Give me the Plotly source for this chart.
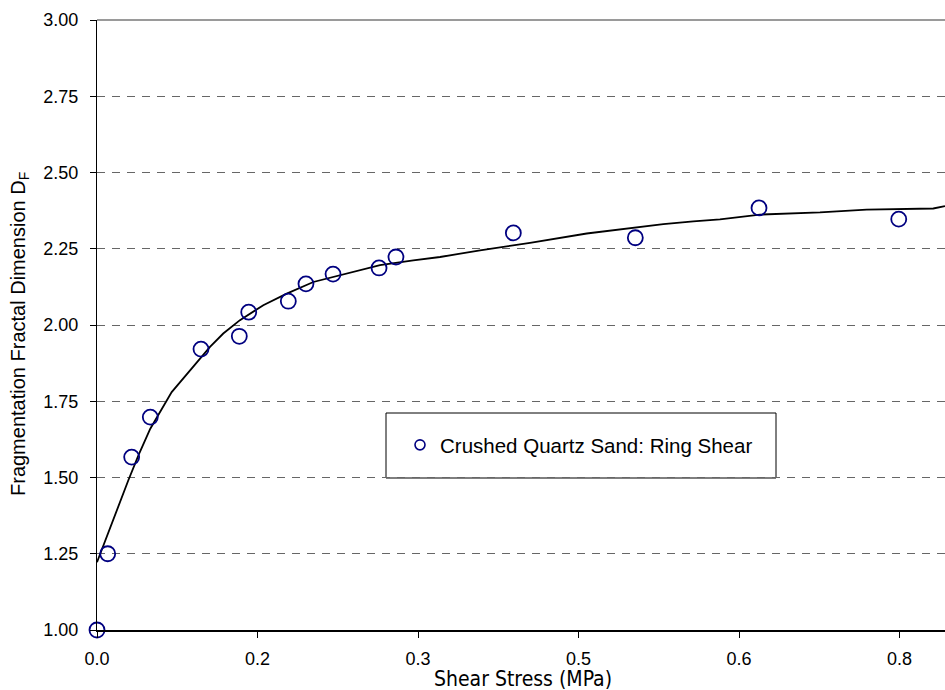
import plotly.graph_objects as go

# ---- data ----
shear_stress = [0.0, 0.0100, 0.0324, 0.0498, 0.0972, 0.1330, 0.1418, 0.1788,
                0.1953, 0.2206, 0.2636, 0.2794, 0.3891, 0.5031, 0.6187, 0.7493]
frag_dim = [1.000, 1.250, 1.567, 1.698, 1.921, 1.963, 2.042, 2.078,
            2.135, 2.167, 2.187, 2.223, 2.302, 2.286, 2.384, 2.347]

fit_stress = [0.0, 0.0100, 0.0208, 0.0293, 0.0390, 0.0498, 0.0698, 0.0776,
              0.0972, 0.1056, 0.1180, 0.1336, 0.1554, 0.1773, 0.2022, 0.2334,
              0.2645, 0.2956, 0.3206, 0.3580, 0.4047, 0.4577, 0.5012, 0.5293,
              0.5573, 0.5822, 0.6196, 0.6757, 0.7193, 0.7816, 0.7925]
fit_dim = [1.222, 1.315, 1.418, 1.491, 1.575, 1.660, 1.780, 1.813,
           1.895, 1.928, 1.972, 2.016, 2.065, 2.103, 2.141, 2.169,
           2.196, 2.212, 2.223, 2.245, 2.269, 2.300, 2.320, 2.331,
           2.340, 2.346, 2.362, 2.369, 2.378, 2.382, 2.390]

x_tick_vals = [0.0, 0.15, 0.30, 0.45, 0.60, 0.75]
x_tick_text = ["0.0", "0.2", "0.3", "0.5", "0.6", "0.8"]
y_tick_vals = [1.00, 1.25, 1.50, 1.75, 2.00, 2.25, 2.50, 2.75, 3.00]

series_name = "Crushed Quartz Sand: Ring Shear"
x_title = "Shear Stress (MPa)"
y_title = "Fragmentation Fractal Dimension D<sub>F</sub>"

NAVY = "#000080"
FONT = "Liberation Sans, Arial, sans-serif"

fig = go.Figure()

fig.add_trace(go.Scatter(
    x=fit_stress, y=fit_dim, mode="lines",
    line=dict(color="black", width=1.8),
    showlegend=False, hoverinfo="skip", cliponaxis=False,
))
fig.add_trace(go.Scatter(
    x=shear_stress, y=frag_dim, mode="markers",
    marker=dict(symbol="circle-open", size=15, color=NAVY, line=dict(width=1.8, color=NAVY)),
    showlegend=False, cliponaxis=False, name=series_name,
))
# legend entry (smaller symbol, as in the reference)
fig.add_trace(go.Scatter(
    x=[None], y=[None], mode="markers", name=series_name,
    marker=dict(symbol="circle-open", size=10, color=NAVY, line=dict(width=1.6, color=NAVY)),
    showlegend=True,
))

W, H = 945, 690
L, R, T, B = 97, 0, 20, 60
pw, ph = W - L - R, H - T - B

def px_x(p):
    return (p - L) / pw

def px_y(p):
    return (H - B - p) / ph

fig.update_layout(
    width=W, height=H,
    margin=dict(l=L, r=R, t=T, b=B),
    paper_bgcolor="white", plot_bgcolor="white",
    font=dict(family=FONT, size=18, color="black"),
    showlegend=True,
    legend=dict(
        x=px_x(400), y=px_y(445), xanchor="left", yanchor="middle",
        bgcolor="rgba(0,0,0,0)", borderwidth=0,
        font=dict(family=FONT, size=20.5, color="black"),
        itemwidth=30,
    ),
    xaxis=dict(
        range=[0, pw / 1070.0],
        tickvals=x_tick_vals, ticktext=x_tick_text,
        showgrid=False, zeroline=False,
        showline=True, linecolor="black", linewidth=2,
        ticks="outside", ticklen=6, tickcolor="black", tickwidth=1,
        tickfont=dict(family=FONT, size=18),
        ticklabelstandoff=5,
    ),
    yaxis=dict(
        range=[1, 3],
        tickvals=y_tick_vals, tickformat=".2f",
        showgrid=True, gridcolor="#666666", gridwidth=1, griddash="8px,7px",
        zeroline=False,
        showline=True, linecolor="black", linewidth=1.3,
        ticks="outside", ticklen=6, tickcolor="black", tickwidth=1,
        tickfont=dict(family=FONT, size=18),
        ticklabelstandoff=8,
    ),
    shapes=[
        dict(type="line", xref="paper", yref="paper", x0=0, x1=1, y0=1, y1=1,
             line=dict(color="#9a9a9a", width=2), layer="below"),
        dict(type="rect", xref="paper", yref="paper",
             x0=px_x(386), x1=px_x(776), y0=px_y(478), y1=px_y(413),
             line=dict(color="black", width=1), fillcolor="white", layer="below"),
    ],
    annotations=[
        dict(text=x_title, xref="paper", yref="paper",
             x=px_x(523), y=px_y(679), xanchor="center", yanchor="middle",
             showarrow=False,
             font=dict(family="Liberation Sans Narrow, Arial Narrow, DejaVu Sans Condensed, sans-serif", size=21)),
        dict(text=y_title, xref="paper", yref="paper",
             x=px_x(19), y=px_y(334), xanchor="center", yanchor="middle",
             textangle=-90, showarrow=False,
             font=dict(family=FONT, size=20)),
    ],
)

fig.write_html("out.html", config={"displayModeBar": False},
               post_script="document.body.style.margin='0px';document.body.style.padding='0px';")
